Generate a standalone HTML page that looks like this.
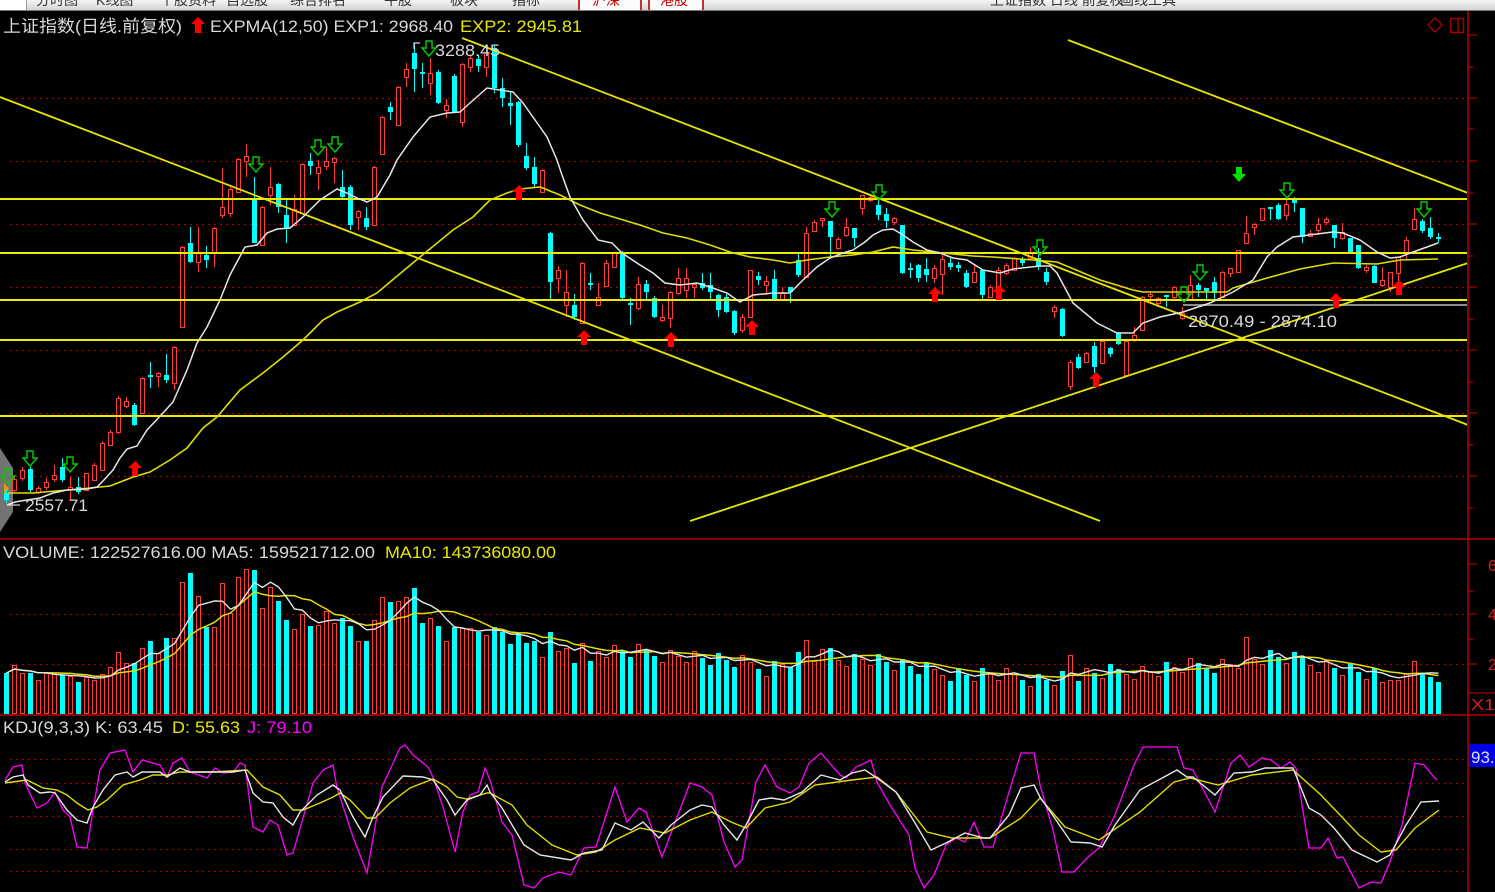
<!DOCTYPE html>
<html><head><meta charset="utf-8">
<style>
html,body{margin:0;padding:0;background:#000;width:1495px;height:892px;overflow:hidden;position:relative}
#top{position:absolute;left:0;top:0;width:1495px;height:10px;background:linear-gradient(#f6f6f6,#d4d4d4);overflow:hidden;border-bottom:1px solid #777}
#top span{position:absolute;top:-10px;font:14px "Liberation Sans","Noto Sans CJK SC",sans-serif;color:#333;white-space:nowrap}
svg{position:absolute;left:0;top:0}
text{font-family:"Liberation Sans","Noto Sans CJK SC",sans-serif}
</style></head><body>
<svg id="s" width="1495" height="892" viewBox="0 0 1495 892" xmlns="http://www.w3.org/2000/svg">
<rect x="0" y="0" width="1495" height="892" fill="#000"/>
<!-- left handle -->
<polygon points="0,448 13,468 13,512 0,532" fill="#9a9a9a" opacity="0.75"/>
<polygon points="4,483 9,489 4,495" fill="#e0a000"/>
<!-- dotted grid main -->
<g stroke="#a00000" stroke-width="1.3" stroke-dasharray="2 4">
<line x1="10" y1="98.5" x2="1466" y2="98.5"/>
<line x1="10" y1="161.5" x2="1466" y2="161.5"/>
<line x1="10" y1="224.5" x2="1466" y2="224.5"/>
<line x1="10" y1="287.5" x2="1466" y2="287.5"/>
<line x1="10" y1="350.5" x2="1466" y2="350.5"/>
<line x1="10" y1="413.5" x2="1466" y2="413.5"/>
<line x1="10" y1="476.5" x2="1466" y2="476.5"/>
<line x1="10" y1="614.5" x2="1466" y2="614.5"/>
<line x1="10" y1="664.5" x2="1466" y2="664.5"/>
<line x1="10" y1="759.5" x2="1466" y2="759.5"/>
<line x1="10" y1="783.5" x2="1466" y2="783.5"/>
<line x1="10" y1="816.5" x2="1466" y2="816.5"/>
<line x1="10" y1="849.5" x2="1466" y2="849.5"/>
<line x1="10" y1="871.5" x2="1466" y2="871.5"/>
</g>
<g id="cd" shape-rendering="crispEdges"></g>
<g id="vg" shape-rendering="crispEdges"></g>
<!-- horizontal drawn lines -->
<g stroke="#ecec00" stroke-width="2">
<line x1="0" y1="199" x2="1468" y2="199"/>
<line x1="0" y1="253" x2="1468" y2="253"/>
<line x1="0" y1="300" x2="1468" y2="300"/>
<line x1="0" y1="340" x2="1468" y2="340"/>
<line x1="0" y1="416" x2="1468" y2="416"/>
</g>
<line x1="1183" y1="305" x2="1468" y2="305" stroke="#8c8c8c" stroke-width="2"/>
<!-- diagonal lines -->
<g stroke="#e6e600" stroke-width="1.8">
<line x1="0" y1="97" x2="1100" y2="521"/>
<line x1="462" y1="38" x2="1468" y2="425"/>
<line x1="1068" y1="40" x2="1468" y2="193"/>
<line x1="690" y1="521" x2="1468" y2="263"/>
</g>
<!-- EXPMA lines -->
<polyline fill="none" stroke="#dede00" stroke-width="1.6" points="8,493 33,493 67,490 90,488 110,486 133,477 150,472 170,460 187,448 203,428 217,417 240,390 263,373 283,357 303,340 323,320 337,312 360,302 377,293 390,282 420,257 453,230 473,217 490,200 507,193 520,189 540,187 560,195 580,205 600,213 620,219 640,225 663,233 687,238 710,245 730,252 750,257 773,260 790,263 807,260 830,257 853,255 873,252 893,247 913,250 933,252 953,254 973,256 993,257 1020,259 1057,262 1100,280 1133,290 1143,292 1227,292 1233,288 1267,278 1300,269 1333,263 1377,264 1400,260 1438,259"/>
<polyline fill="none" stroke="#e6e6e6" stroke-width="1.5" points="7,505 15,502 27,500 40,498 53,493 67,490 87,489 97,487 103,481 113,470 120,458 127,449 137,446 147,430 163,413 173,402 187,370 197,343 207,327 220,300 230,275 245,247 257,245 267,233 277,229 290,228 303,217 320,200 337,189 347,193 357,198 367,202 377,197 390,175 397,160 413,137 430,117 447,113 460,112 470,103 487,88 500,90 513,92 523,103 540,127 547,137 557,160 562,175 570,197 583,220 598,240 612,243 622,253 640,265 653,273 665,283 680,285 697,283 710,287 727,293 740,302 753,295 773,293 790,293 803,280 817,267 830,258 843,253 853,250 865,242 873,235 883,230 893,229 903,235 913,242 927,250 940,253 953,258 967,260 983,270 1000,273 1013,269 1040,266 1050,266 1057,273 1073,303 1097,323 1117,333 1133,333 1143,323 1160,317 1183,312 1210,303 1233,292 1253,280 1267,257 1277,247 1293,237 1333,232 1343,233 1360,240 1377,252 1390,258 1400,257 1413,252 1427,247 1438,243"/>
<g id="ag"></g>
<!-- KDJ lines -->
<polyline fill="none" stroke="#ff00ff" stroke-width="1.3" points="5,780 13,767 22,765 25,783 37,808 47,803 55,792 63,810 70,817 77,847 87,848 93,810 100,770 110,753 125,750 133,772 142,760 160,765 167,777 173,763 182,758 190,772 207,778 215,768 223,773 233,772 240,763 245,765 253,827 263,832 270,820 278,825 287,855 293,853 313,783 323,770 333,765 337,788 353,837 367,873 382,787 400,748 405,745 413,755 428,767 433,777 443,807 455,852 463,812 470,795 478,792 485,768 490,780 502,822 512,835 524,885 534,888 543,878 559,872 571,875 584,848 596,847 615,787 627,822 639,808 646,812 662,857 690,783 702,787 712,795 724,842 735,867 742,860 756,782 765,765 777,787 790,793 799,787 809,763 821,753 840,775 846,778 856,767 865,763 871,760 877,782 890,805 909,835 915,868 924,888 934,875 946,845 956,838 965,842 974,822 984,847 993,847 1009,792 1021,753 1034,753 1040,785 1053,830 1062,872 1074,872 1087,858 1099,848 1115,815 1134,765 1143,747 1177,747 1184,768 1193,770 1215,812 1231,763 1240,755 1249,767 1262,758 1271,760 1281,768 1290,762 1296,768 1309,848 1321,848 1328,838 1337,858 1343,857 1359,888 1371,882 1381,883 1390,862 1402,825 1415,763 1424,765 1434,777 1437,780"/>
<polyline fill="none" stroke="#dede00" stroke-width="1.4" points="5,783 27,780 43,788 57,790 67,795 77,803 88,810 97,807 107,800 123,785 140,780 153,775 167,775 180,772 213,772 247,770 263,787 280,795 293,810 303,810 320,803 333,797 340,793 350,800 367,818 375,818 390,803 410,788 433,779 447,787 457,797 467,799 487,793 490,793 512,805 527,825 552,845 577,855 596,852 615,840 640,828 665,833 690,820 712,812 731,822 746,828 765,808 790,802 815,785 852,780 877,777 896,792 927,832 952,838 990,838 1021,818 1040,798 1065,827 1099,840 1140,812 1174,782 1190,778 1218,785 1252,775 1293,770 1321,795 1359,835 1381,852 1396,850 1415,828 1439,810"/>
<polyline fill="none" stroke="#e6e6e6" stroke-width="1.4" points="5,782 13,777 23,775 28,785 40,793 50,792 55,793 67,810 77,820 87,823 93,807 103,790 115,775 127,772 133,777 142,772 160,772 167,777 180,768 190,772 213,772 233,772 245,770 253,793 263,802 273,803 283,817 293,825 300,812 317,795 333,785 340,790 353,817 365,837 373,817 383,797 403,776 423,777 433,780 447,800 455,815 467,800 480,795 487,785 490,792 502,808 524,845 540,855 571,860 584,853 602,850 615,823 631,830 643,822 659,838 671,825 690,810 702,805 712,807 724,825 737,840 746,825 759,800 771,798 784,800 802,792 821,775 840,780 852,773 865,770 877,778 896,792 915,823 931,850 946,843 965,833 984,838 990,838 1009,815 1021,788 1034,785 1040,797 1056,820 1071,842 1090,843 1102,847 1115,825 1140,790 1177,770 1187,777 1193,777 1215,795 1234,773 1252,772 1265,768 1293,768 1309,808 1321,815 1334,828 1352,850 1377,862 1390,855 1406,825 1421,802 1439,801"/>
<!-- separators & axis -->
<g stroke="#8a0000" stroke-width="2">
<line x1="0" y1="539" x2="1495" y2="539"/>
<line x1="0" y1="715" x2="1495" y2="715"/>
<line x1="1468" y1="11" x2="1468" y2="892"/>
</g>
<g stroke="#8a0000" stroke-width="1.5">
<line x1="1468" y1="35" x2="1477" y2="35"/><line x1="1468" y1="67" x2="1473" y2="67"/>
<line x1="1468" y1="98" x2="1477" y2="98"/><line x1="1468" y1="129" x2="1473" y2="129"/>
<line x1="1468" y1="161" x2="1477" y2="161"/><line x1="1468" y1="193" x2="1473" y2="193"/>
<line x1="1468" y1="224" x2="1477" y2="224"/><line x1="1468" y1="256" x2="1473" y2="256"/>
<line x1="1468" y1="287" x2="1477" y2="287"/><line x1="1468" y1="319" x2="1473" y2="319"/>
<line x1="1468" y1="350" x2="1477" y2="350"/><line x1="1468" y1="382" x2="1473" y2="382"/>
<line x1="1468" y1="413" x2="1477" y2="413"/><line x1="1468" y1="445" x2="1473" y2="445"/>
<line x1="1468" y1="476" x2="1477" y2="476"/><line x1="1468" y1="508" x2="1473" y2="508"/>
<line x1="1468" y1="564" x2="1477" y2="564"/><line x1="1468" y1="591" x2="1473" y2="591"/>
<line x1="1468" y1="614" x2="1477" y2="614"/><line x1="1468" y1="639" x2="1473" y2="639"/>
<line x1="1468" y1="664" x2="1477" y2="664"/>
<line x1="1468" y1="693" x2="1495" y2="693"/>
</g>
<g font-size="16" fill="#d02020">
<text x="1488" y="571">6</text>
<text x="1488" y="620">4</text>
<text x="1488" y="670">2</text>
<text x="1471" y="710" textLength="24" lengthAdjust="spacingAndGlyphs">X1</text>
</g>
<rect x="1469" y="744" width="26" height="23" fill="#0000e6"/>
<text x="1471" y="763" font-size="17" fill="#dde0ff">93.</text>
<!-- icons -->
<polygon points="1435,18 1442,25 1435,32 1428,25" fill="none" stroke="#a00000" stroke-width="1.5"/>
<rect x="1450.5" y="18.5" width="13" height="14" fill="none" stroke="#a00000" stroke-width="1.5"/>
<line x1="1458" y1="18" x2="1458" y2="33" stroke="#a00000" stroke-width="1.5"/>
<!-- texts -->
<g font-size="17">
<text x="3" y="32" fill="#d8d8d8" textLength="179" lengthAdjust="spacingAndGlyphs">上证指数(日线.前复权)</text>
<text x="210" y="32" fill="#d8d8d8" textLength="243" lengthAdjust="spacingAndGlyphs">EXPMA(12,50) EXP1: 2968.40</text>
<text x="460" y="32" fill="#e8e800" textLength="122" lengthAdjust="spacingAndGlyphs">EXP2: 2945.81</text>
<text x="3" y="558" fill="#d8d8d8" textLength="372" lengthAdjust="spacingAndGlyphs">VOLUME: 122527616.00 MA5: 159521712.00</text>
<text x="385" y="558" fill="#e8e800" textLength="171" lengthAdjust="spacingAndGlyphs">MA10: 143736080.00</text>
<text x="3" y="733" fill="#d8d8d8" textLength="160" lengthAdjust="spacingAndGlyphs">KDJ(9,3,3) K: 63.45</text>
<text x="172" y="733" fill="#e8e800" textLength="68" lengthAdjust="spacingAndGlyphs">D: 55.63</text>
<text x="247" y="733" fill="#ff00ff" textLength="65" lengthAdjust="spacingAndGlyphs">J: 79.10</text>
<text x="435" y="56" fill="#d8d8d8" textLength="65" lengthAdjust="spacingAndGlyphs">3288.45</text>
<text x="25" y="511" fill="#d8d8d8" textLength="63" lengthAdjust="spacingAndGlyphs">2557.71</text>
<text x="1188" y="327" fill="#d8d8d8" textLength="149" lengthAdjust="spacingAndGlyphs">2870.49 - 2874.10</text>
</g>
<polyline points="420,43 414,43 414,49" fill="none" stroke="#d8d8d8" stroke-width="1.2"/>
<line x1="7" y1="505" x2="20" y2="505" stroke="#d8d8d8" stroke-width="1.2"/>
<polygon points="198,17 205,24 201,24 201,33 195,33 195,24 191,24" fill="#ff0000"/>
</svg>
<div id="top">
<div style="position:absolute;left:0;top:0;width:26px;height:10px;background:#fff;border-right:1px solid #999"></div>
<span style="left:36px">分时图</span>
<span style="left:96px">K线图</span>
<span style="left:160px">个股资料</span>
<span style="left:226px">自选股</span>
<span style="left:290px">综合排名</span>
<span style="left:384px">牛股</span>
<span style="left:450px">板块</span>
<span style="left:512px">指标</span>
<div style="position:absolute;left:578px;top:0;width:60px;height:10px;background:#fbfbfb;border-left:2px solid #c03030;border-right:2px solid #c03030"></div>
<span style="left:592px;color:#c00000">沪深</span>
<div style="position:absolute;left:648px;top:0;width:52px;height:10px;background:#fbfbfb;border-left:2px solid #c03030;border-right:2px solid #c03030"></div>
<span style="left:660px;color:#c00000">港股</span>
<span style="left:990px">上证指数 日线 前复权</span>
<span style="left:1120px">画线工具</span>
</div>
<script>
(function(){
var NS='http://www.w3.org/2000/svg';
function el(tag,a,p){var e=document.createElementNS(NS,tag);for(var k in a)e.setAttribute(k,a[k]);p.appendChild(e);return e;}
var R='#ff3c3c',G='#00ffff';
var C=[[0,493,500,490,503],[1,479,490,476,492],[1,470,478,467,481],[0,469,490,467,492],[1,488,492,486,494],[1,482,487,478,490],[1,475,479,465,482],[0,467,480,458,482],[1,487,489,477,500],[0,487,492,477,494],
[1,473,490,473,491],[1,465,480,463,481],[1,443,470,441,471],[1,432,445,430,446],[1,398,432,396,434],[1,401,406,397,408],[0,405,425,403,426],[1,378,413,377,414],[0,375,377,362,388],[1,373,376,372,387],
[0,375,380,354,383],[1,347,383,346,390],[1,247,327,246,328],[0,243,262,227,263],[1,253,262,227,272],[0,255,260,246,268],[1,228,253,227,267],[1,207,215,168,218],[1,189,213,187,217],[1,159,192,158,193],
[1,156,161,144,177],[0,198,243,177,243],[1,207,245,206,246],[1,187,195,167,205],[0,184,207,183,213],[0,215,228,200,243],[1,209,225,195,226],[1,164,213,163,214],[0,161,166,153,175],[1,167,173,160,190],
[1,161,166,147,170],[1,158,162,157,183],[0,187,197,170,200],[0,187,225,185,230],[1,211,217,210,230],[0,218,227,207,230],[1,167,225,166,226],[1,117,154,116,155],[0,107,112,102,120],[1,87,125,86,126],
[1,69,77,63,87],[0,53,69,43,92],[0,72,73,63,88],[1,73,83,58,95],[0,72,103,70,104],[1,105,110,99,118],[0,76,112,74,113],[1,64,122,63,127],[1,58,67,55,72],[0,59,66,55,72],
[1,52,67,47,77],[0,48,88,46,93],[0,88,98,78,107],[0,103,106,92,125],[0,102,145,101,147],[0,156,168,143,170],[0,167,184,157,187],[1,170,192,169,193],[0,233,282,232,300],[1,270,278,266,293],
[1,292,305,270,317],[0,305,317,294,320],[1,263,323,262,324],[0,283,285,273,290],[1,297,305,283,306],[1,263,286,260,287],[1,253,267,252,268],[0,252,298,251,299],[0,303,305,298,325],[1,284,308,277,310],
[0,284,292,280,300],[0,298,317,296,318],[1,317,320,305,322],[1,292,318,291,328],[1,278,293,268,295],[1,278,290,268,298],[1,284,287,283,298],[0,283,288,273,290],[0,285,292,273,300],[0,295,310,294,317],
[0,297,312,294,313],[0,311,333,310,335],[1,317,330,314,333],[1,270,317,270,317],[0,276,280,272,285],[1,281,285,276,295],[0,279,299,270,300],[1,293,299,287,300],[0,287,292,287,303],[0,260,275,253,277],
[1,233,277,227,277],[1,222,231,220,231],[1,218,220,218,227],[0,221,237,221,257],[1,239,248,237,250],[1,227,235,218,237],[0,228,238,228,247],[1,195,208,195,215],[1,197,200,195,202],[0,205,215,199,220],
[0,214,221,208,228],[1,218,222,217,225],[0,225,273,225,274],[0,268,270,263,278],[0,265,278,264,282],[0,269,275,258,282],[1,268,278,265,283],[1,259,274,255,295],[0,263,267,258,270],[0,265,268,262,272],
[0,273,287,270,288],[1,272,282,265,282],[0,270,295,270,300],[1,287,297,285,298],[1,270,288,267,292],[1,265,273,263,275],[1,258,270,257,271],[0,259,263,257,266],[1,253,258,247,258],[0,258,267,248,270],
[0,272,282,268,285],[1,307,311,305,318],[0,309,336,308,337],[1,362,386,360,390],[0,357,368,354,369],[1,353,362,352,363],[0,346,367,342,373],[1,341,363,340,364],[0,348,354,347,357],[0,333,344,332,345],
[1,341,375,340,376],[1,335,340,327,342],[1,297,330,296,331],[1,294,296,293,303],[1,298,303,297,305],[0,295,297,295,307],[1,287,297,286,300],[1,313,318,307,320],[1,285,300,275,300],[0,285,290,283,297],
[0,288,291,288,300],[0,282,293,277,300],[1,272,297,271,297],[1,268,273,268,277],[1,250,272,250,272],[1,233,243,216,243],[1,224,227,223,235],[1,208,220,208,220],[0,207,209,207,220],[0,205,219,203,220],
[1,204,215,197,220],[0,199,203,197,212],[0,208,237,208,243],[1,233,236,230,237],[1,224,230,218,235],[1,219,222,217,225],[0,225,238,225,248],[1,232,238,223,240],[0,238,252,238,253],[0,245,268,245,269],
[1,267,270,265,273],[0,266,283,265,283],[1,280,285,267,287],[1,272,287,272,292],[1,257,273,257,282],[1,240,253,237,260],[1,219,229,208,230],[0,221,231,219,233],[0,228,237,217,239],[0,237,239,233,243]];
var cg=document.getElementById('cd');
C.forEach(function(c,i){var x=6.5+8*i,top=c[1],bot=c[2],hi=c[3],lo=c[4];
 if(c[0]===1){
  if(hi<top)el('line',{x1:x,y1:hi,x2:x,y2:top,stroke:R},cg);
  if(lo>bot)el('line',{x1:x,y1:bot,x2:x,y2:lo,stroke:R},cg);
  el('rect',{x:x-2,y:top+0.5,width:4,height:Math.max(bot-top,1),fill:'#000',stroke:R},cg);
 }else{
  el('line',{x1:x,y1:hi,x2:x,y2:lo,stroke:G},cg);
  el('rect',{x:x-2.5,y:top,width:5,height:Math.max(bot-top,2),fill:G},cg);
 }
});
var V=[673,665,673,673,680,673,673,675,676,682,677,680,674,667,652,663,663,648,641,653,638,638,582,573,596,627,627,583,613,577,569,570,608,587,601,620,629,614,626,625,611,623,618,626,641,641,620,597,602,601,597,588,623,618,626,641,627,628,628,632,635,627,632,644,633,643,641,657,632,651,648,663,643,661];
var B=[[74,650],[85,655],[95,668],[100,656],[108,658],[115,672],[130,678],[140,672],[150,665],[158,657],[165,665],[171,676],[179,680]];
function base(i){for(var k=0;k<B.length-1;k++){if(i>=B[k][0]&&i<=B[k+1][0]){var t=(i-B[k][0])/(B[k+1][0]-B[k][0]);return B[k][1]+t*(B[k+1][1]-B[k][1]);}}return 675;}
var OV={100:640,103:648,133:655,155:637,172:682,173:680,174:680,175:673,176:661,177:673,178:677,179:682};
for(var i=74;i<180;i++){var n=(((i*7919)%23)-11)*0.8;var v=Math.round(base(i)+n);if(OV[i])v=OV[i];v=Math.min(v,700);V.push(v);}
var vg=document.getElementById('vg');
V.forEach(function(t,i){var x=6.5+8*i;
 if(C[i][0]===1){el('rect',{x:x-2,y:t+0.5,width:4,height:713-t,fill:'none',stroke:R},vg);}
 else{el('rect',{x:x-2.5,y:t,width:5,height:714-t,fill:G},vg);}
});
function ma(n){var pts=[];for(var i=0;i<V.length;i++){var s=0,c=0;for(var j=Math.max(0,i-n+1);j<=i;j++){s+=714-V[j];c++;}pts.push((6.5+8*i)+','+(714-s/c).toFixed(1));}return pts.join(' ');}
var svg=document.getElementById('s');
el('polyline',{points:ma(10),fill:'none',stroke:'#e0e000','stroke-width':1.5},svg);
el('polyline',{points:ma(5),fill:'none',stroke:'#e6e6e6','stroke-width':1.4},svg);
var ag=document.getElementById('ag');
[[135,461],[519,185],[584,330],[671,332],[752,320],[935,287],[999,285],[1096,372],[1336,293],[1399,280]].forEach(function(p){var x=p[0],y=p[1];
 el('polygon',{points:x+','+y+' '+(x+7)+','+(y+7)+' '+(x+3)+','+(y+7)+' '+(x+3)+','+(y+15)+' '+(x-3)+','+(y+15)+' '+(x-3)+','+(y+7)+' '+(x-7)+','+(y+7),fill:'#ff0000'},ag);});
[[30,451],[8,469],[70,457],[256,157],[318,140],[335,137],[429,41],[832,202],[879,185],[1040,240],[1184,287],[1200,265],[1287,183],[1424,202]].forEach(function(p){var x=p[0],y=p[1];
 el('polygon',{points:(x-3)+','+y+' '+(x+3)+','+y+' '+(x+3)+','+(y+7)+' '+(x+7)+','+(y+7)+' '+x+','+(y+15)+' '+(x-7)+','+(y+7)+' '+(x-3)+','+(y+7),fill:'none',stroke:'#00d000','stroke-width':1.4},ag);});
(function(){var x=1239,y=167;el('polygon',{points:(x-3)+','+y+' '+(x+3)+','+y+' '+(x+3)+','+(y+7)+' '+(x+7)+','+(y+7)+' '+x+','+(y+15)+' '+(x-7)+','+(y+7)+' '+(x-3)+','+(y+7),fill:'#00e000'},ag);})();
})();
</script>
</body></html>
